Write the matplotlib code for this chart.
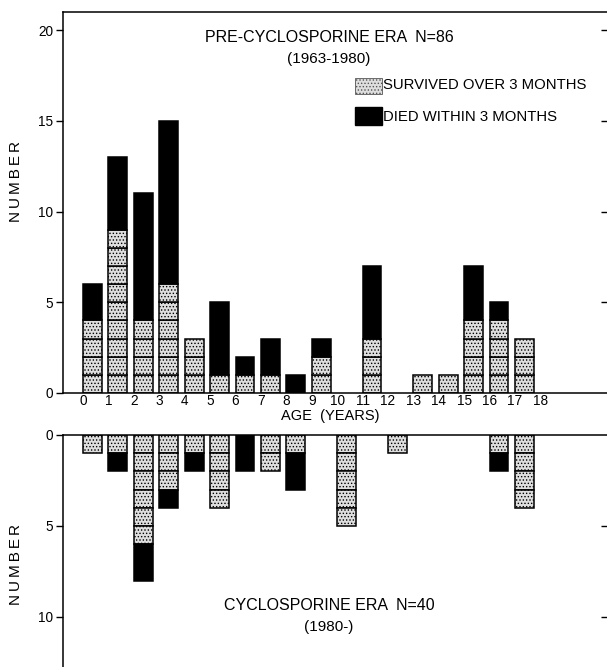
import numpy as np
import matplotlib
matplotlib.use("Agg")
import matplotlib.pyplot as plt
import matplotlib.lines as mlines

plt.rcParams['font.family'] = ['Liberation Sans', 'DejaVu Sans']
plt.rcParams['hatch.color'] = '#7a7a7a'
plt.rcParams['hatch.linewidth'] = 0.6

ages = np.arange(0, 19)
age_labels = [str(a) for a in ages]

# pre-cyclosporine era (1963-1980), N=86
pre_survived = np.array([4, 9, 4, 6, 3, 1, 1, 1, 0, 2, 0, 3, 0, 1, 1, 4, 4, 3, 0])
pre_died = np.array([2, 4, 7, 9, 0, 4, 1, 2, 1, 1, 0, 4, 0, 0, 0, 3, 1, 0, 0])

# cyclosporine era (1980-), N=40
cyc_survived = np.array([1, 1, 6, 3, 1, 4, 0, 2, 1, 0, 5, 0, 1, 0, 0, 0, 1, 4, 0])
cyc_died = np.array([0, 1, 2, 1, 1, 0, 2, 0, 2, 0, 0, 0, 0, 0, 0, 0, 1, 0, 0])

W, H = 607, 667
fig = plt.figure(figsize=(W / 100, H / 100), dpi=100)

left = 63 / W
ax1 = fig.add_axes([left, 1 - 393 / H, 1 - left, (393 - 12) / H])
ax2 = fig.add_axes([left, 0, 1 - left, (667 - 435) / H])

bw = 0.74
surv_style = dict(width=bw, align='edge', facecolor='#dedede', hatch='.....',
                  edgecolor='black', linewidth=1.1)
died_style = dict(width=bw, align='edge', facecolor='black',
                  edgecolor='black', linewidth=1.1)


def draw_stacks(ax, survived, died):
    # one box per surviving patient, then a solid block for deaths
    for k in range(survived.max()):
        m = survived > k
        ax.bar(ages[m], np.ones(m.sum()), bottom=k, **surv_style)
    m = died > 0
    ax.bar(ages[m], died[m], bottom=survived[m], **died_style)


draw_stacks(ax1, pre_survived, pre_died)
draw_stacks(ax2, cyc_survived, cyc_died)

ylab = '\u2009'.join('NUMBER')
for ax in (ax1, ax2):
    ax.set_xlim(-0.79, 20.62)
    for s in ('right', 'bottom', 'top', 'left'):
        ax.spines[s].set_linewidth(1.1)
    ax.spines['right'].set_visible(False)
    ax.tick_params(axis='y', which='major', direction='out', length=5,
                   width=1, labelsize=9.8, pad=2, right=True)
    ax.set_ylabel(ylab, fontsize=11)

# top panel
ax1.set_ylim(0, 21.0)
ax1.set_yticks([0, 5, 10, 15, 20])
ax1.set_xticks(ages)
ax1.set_xticklabels(age_labels)
ax1.tick_params(axis='x', length=0, labelsize=9.8, pad=0.5)
ax1.text(0.491, -0.061, 'AGE  (YEARS)', transform=ax1.transAxes,
         ha='center', va='center', fontsize=10.5)
ax1.text(0.489, 0.934, 'PRE-CYCLOSPORINE ERA  N=86', transform=ax1.transAxes,
         ha='center', va='center', fontsize=11.5)
ax1.text(0.489, 0.876, '(1963-1980)', transform=ax1.transAxes,
         ha='center', va='center', fontsize=11)

# legend drawn as boxes with labels
ax1.bar([10.71], [0.9], bottom=16.48, width=1.06, align='edge', facecolor='#dedede',
        hatch='.....', edgecolor='#555555', linewidth=0.6)
ax1.bar([10.71], [1.0], bottom=14.77, width=1.06, align='edge', facecolor='black',
        edgecolor='black', linewidth=1.0)
ax1.text(11.81, 17.0, 'SURVIVED OVER 3 MONTHS', fontsize=10.7, va='center', ha='left')
ax1.text(11.81, 15.23, 'DIED WITHIN 3 MONTHS', fontsize=10.7, va='center', ha='left')

# bottom panel (counts drawn downward)
ax2.set_ylim(12.75, 0)
ax2.set_yticks([0, 5, 10])
ax2.set_xticks([])
ax2.spines['bottom'].set_visible(False)
ax2.text(0.489, 0.267, 'CYCLOSPORINE ERA  N=40', transform=ax2.transAxes,
         ha='center', va='center', fontsize=11.5)
ax2.text(0.489, 0.172, '(1980-)', transform=ax2.transAxes,
         ha='center', va='center', fontsize=11)

ax1.yaxis.set_label_coords(-0.0735, 0.554)
ax2.yaxis.set_label_coords(-0.0735, 0.44)

# right-hand ticks point inward so they show at the picture edge
for ax in (ax1, ax2):
    for t in ax.yaxis.get_major_ticks():
        t.tick2line.set_marker(mlines.TICKLEFT)
        t.tick2line.set_markersize(4)
    ax.yaxis.get_major_ticks()[0].tick2line.set_visible(False)

fig.savefig('out.png', dpi=100)
